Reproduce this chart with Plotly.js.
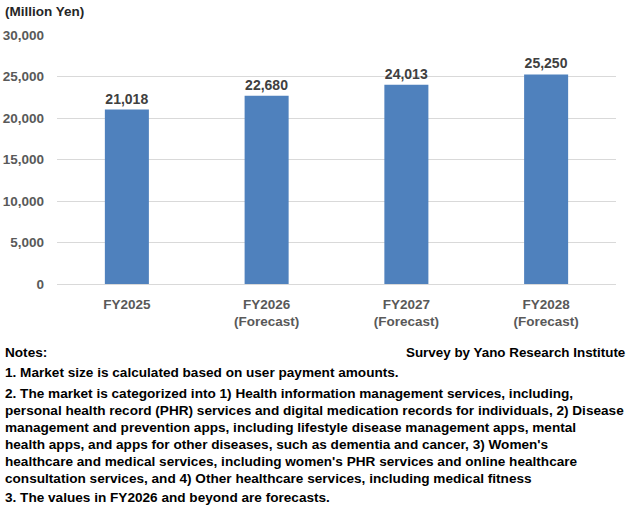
<!DOCTYPE html>
<html>
<head>
<meta charset="utf-8">
<script src="https://cdn.plot.ly/plotly-3.0.1.min.js"></script>
<style>
  html, body { margin: 0; padding: 0; background: #ffffff; }
  #chart { width: 629px; height: 507px; }
</style>
</head>
<body>
<div id="chart"></div>
<script>
// Market size by fiscal year (Million Yen)
const categories = ["FY2025", "FY2026<br>(Forecast)", "FY2027<br>(Forecast)", "FY2028<br>(Forecast)"];
const marketSize = [21018, 22680, 24013, 25250];
const yTickValues = [0, 5000, 10000, 15000, 20000, 25000, 30000];
const yTickLabels = ["0", "5,000", "10,000", "15,000", "20,000", "25,000", "30,000"];

const unitLabel = "(Million Yen)";
const sourceLabel = "Survey by Yano Research Institute";
const noteLines = [
  "Notes:",
  "1. Market size is calculated based on user payment amounts.",
  "2. The market is categorized into 1) Health information management services, including,",
  "personal health record (PHR) services and digital medication records for individuals, 2) Disease",
  "management and prevention apps, including lifestyle disease management apps, mental",
  "health apps, and apps for other diseases, such as dementia and cancer, 3) Women's",
  "healthcare and medical services, including women's PHR services and online healthcare",
  "consultation services, and 4) Other healthcare services, including medical fitness",
  "3. The values in FY2026 and beyond are forecasts."
];
const noteRows = [352, 372, 393, 410, 427, 444, 461, 478, 497];

const FONT = "'Liberation Sans', Arial, sans-serif";
const W = 629, H = 507;
const M = { l: 57, r: 13, t: 35, b: 223 };
const plotH = H - M.t - M.b;
const plotW = W - M.l - M.r;
// convert page pixel positions to paper coordinates
const py = (y) => (H - M.b - y) / plotH;
const px = (x) => (x - M.l) / plotW;

const annotations = [];
annotations.push({
  text: "<b>" + unitLabel + "</b>", xref: "paper", yref: "paper",
  x: px(3), y: py(12), xanchor: "left", yanchor: "middle", showarrow: false,
  font: { family: FONT, size: 13.5, color: "#262626" }
});
noteLines.forEach((line, i) => {
  annotations.push({
    text: "<b>" + line + "</b>", xref: "paper", yref: "paper",
    x: px(3), y: py(noteRows[i]), xanchor: "left", yanchor: "middle", showarrow: false,
    font: { family: FONT, size: 13.6, color: "#000000" }
  });
});
annotations.push({
  text: "<b>" + sourceLabel + "</b>", xref: "paper", yref: "paper",
  x: px(627), y: py(352), xanchor: "right", yanchor: "middle", showarrow: false,
  font: { family: FONT, size: 13.4, color: "#000000" }
});

const trace = {
  type: "bar",
  x: categories,
  y: marketSize,
  marker: { color: "#4f81bd" },
  text: marketSize.map(v => v.toLocaleString("en-US")),
  texttemplate: "<b>%{text}</b>",
  textposition: "outside",
  cliponaxis: false,
  textfont: { family: FONT, size: 14, color: "#404040" },
  hoverinfo: "none"
};

const layout = {
  width: W, height: H,
  margin: M,
  paper_bgcolor: "#ffffff",
  plot_bgcolor: "#ffffff",
  showlegend: false,
  bargap: 0.685,
  font: { family: FONT },
  xaxis: {
    tickvals: categories,
    ticktext: categories.map(c => "<b>" + c + "</b>"),
    tickfont: { family: FONT, size: 13.5, color: "#595959" },
    ticklabelstandoff: 10,
    showgrid: false, zeroline: false, showline: false, ticks: ""
  },
  yaxis: {
    range: [0, 30000],
    tickvals: yTickValues,
    ticktext: yTickLabels.map(t => "<b>" + t + "</b>"),
    tickfont: { family: FONT, size: 13.5, color: "#595959" },
    ticklabelstandoff: 12,
    showgrid: true, gridcolor: "#d9d9d9", gridwidth: 1,
    zeroline: true, zerolinecolor: "#d9d9d9", zerolinewidth: 1,
    showline: false, ticks: ""
  },
  annotations: annotations
};

Plotly.newPlot("chart", [trace], layout, { staticPlot: true, displayModeBar: false });
</script>
</body>
</html>
